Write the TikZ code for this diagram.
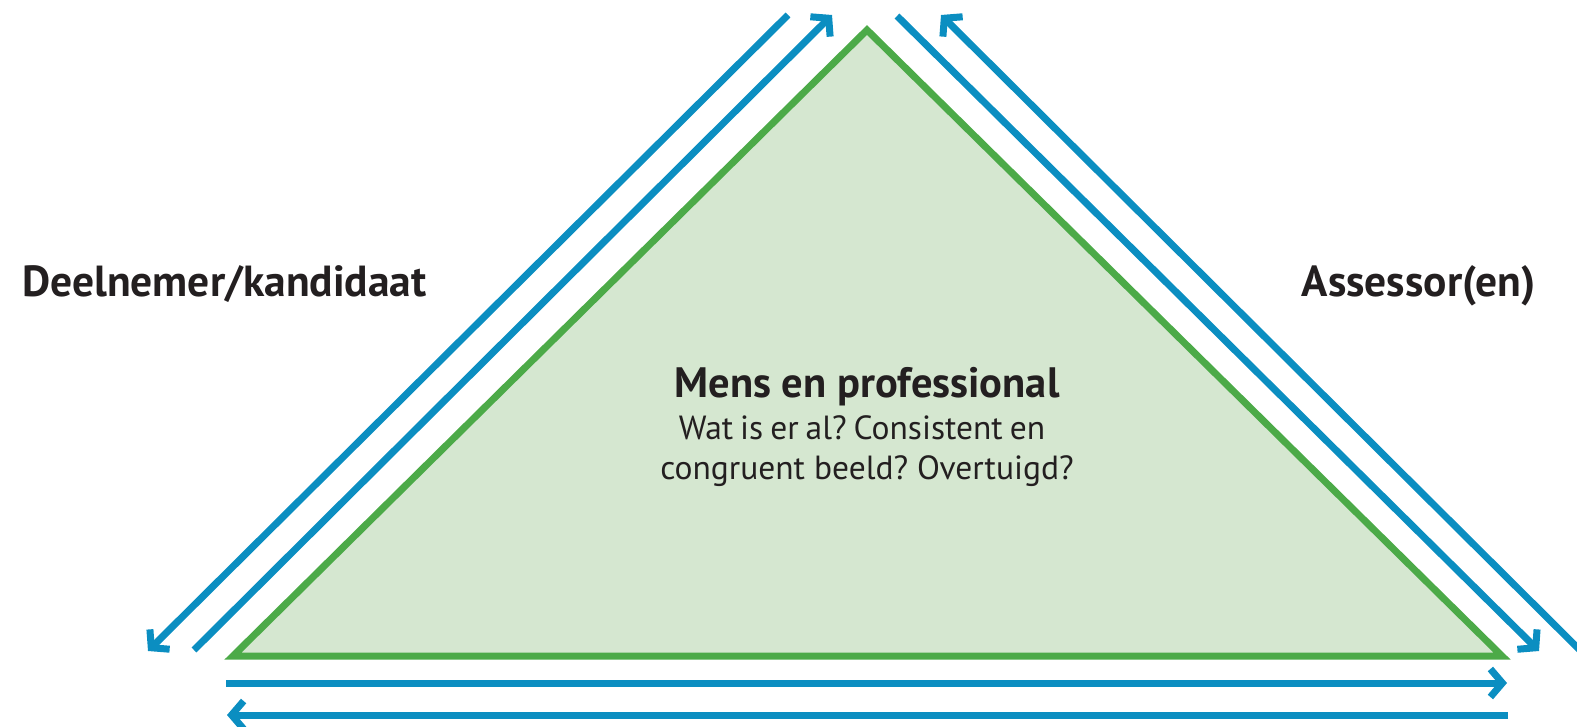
\documentclass[tikz,border=0pt]{standalone}
\usepackage{fontspec}
\setmainfont{PT Sans}
\usetikzlibrary{arrows.meta}
\definecolor{lineblue}{HTML}{0B8EC1}
\definecolor{trigreen}{HTML}{4CAA48}
\definecolor{trifill}{HTML}{D5E7D0}
\definecolor{txt}{HTML}{231F20}
\frenchspacing
\tikzset{
  flow/.style={draw=lineblue, line width=7pt},
  flowhead/.style={flow, -{Straight Barb[length=12pt,width=28pt,line width=7pt]}},
  side/.style={font=\fontsize{43.5}{50}\selectfont\bfseries, text=txt, inner sep=0pt},
  title/.style={font=\fontsize{42.5}{50}\selectfont\bfseries, text=txt, inner sep=0pt},
  body/.style={font=\fontsize{33.5}{40}\selectfont, text=txt, inner sep=0pt}
}
\begin{document}
\begin{tikzpicture}[x={(1pt,0)}, y={(0,-1pt)}]
\useasboundingbox (0,0) rectangle (1577,727);
% triangle
\coordinate (apex) at (867,30);
\coordinate (bl) at (233,656);
\coordinate (br) at (1502,656);
\draw[draw=trigreen, fill=trifill, line width=7pt, line join=miter] (apex) -- (br) -- (bl) -- cycle;
% left pair
\coordinate (l1s) at (788,15);
\coordinate (l1e) at (148,651);
\coordinate (l2s) at (194,650);
\coordinate (l2e) at (832,15);
\draw[flowhead] (l1s) -- (l1e);
\draw[flowhead] (l2s) -- (l2e);
% right pair
\coordinate (r1s) at (897,16);
\coordinate (r1e) at (1539,651);
\coordinate (r2s) at (1610,680);
\coordinate (r2e) at (941,15);
\draw[flowhead] (r1s) -- (r1e);
\begin{scope}
\clip (0,0) rectangle (1577,727);
\draw[flowhead] (r2s) -- (r2e);
\end{scope}
% bottom pair
\coordinate (b1s) at (226,683);
\coordinate (b1e) at (1507,683);
\coordinate (b2s) at (1508,715);
\coordinate (b2e) at (227,715);
\draw[flowhead] (b1s) -- (b1e);
\draw[flowhead] (b2s) -- (b2e);
% labels
\node[side, anchor=base west] (deel) at (22,297) {Deelnemer/kandidaat};
\node[side, anchor=base east] (ass) at (1536,297) {Assessor(en)};
\node[title, anchor=base] (mens) at (867,397) {Mens en professional};
\node[body, anchor=base] (q1) at (862,439) {\spaceskip=7pt\relax Wat is er al? Consistent en};
\node[body, anchor=base] (q2) at (867,479) {congruent beeld? Overtuigd?};
\end{tikzpicture}
\end{document}
